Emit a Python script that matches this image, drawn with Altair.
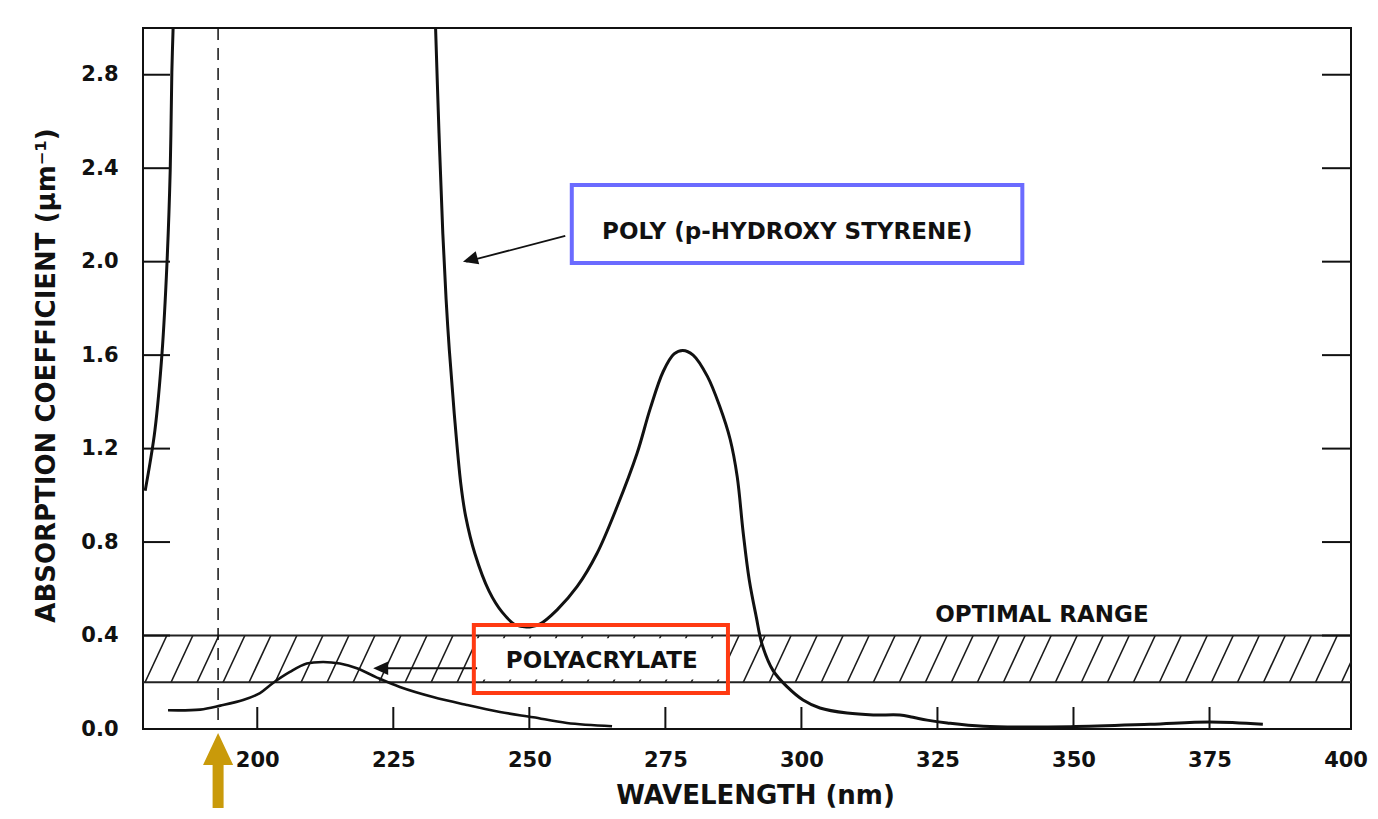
import altair as alt
import numpy as np
import pandas as pd

# ---------------- data ----------------
# Poly(p-hydroxy styrene): short-wavelength branch (leaves the top of the chart)
phs_left_nm = [179.4, 180.3, 181.2, 182.5, 183.4, 184.0, 184.3, 184.6]
phs_left_abs = [1.02, 1.14, 1.28, 1.61, 1.99, 2.39, 2.81, 3.05]

# Poly(p-hydroxy styrene): main branch
phs_main_nm = [232.7, 233.4, 234.1, 234.7, 235.3, 236.2, 237.4, 238.3, 240.0, 242.6,
               245.0, 247.5, 250.1, 252.0, 255.1, 258.8, 262.4, 266.1, 269.8, 272.2,
               274.6, 276.6, 278.2, 280.1, 282.7, 285.0, 286.9, 288.2, 289.3, 290.4,
               291.7, 292.8, 294.8, 297.4, 300.3, 303.4, 308.4, 313.2, 318.1,
               320.5, 323.1, 326.8, 333.4, 349.4, 364.1, 375.1, 384.8]
phs_main_abs = [3.05, 2.55, 2.12, 1.84, 1.62, 1.35, 1.05, 0.91, 0.75, 0.59,
                0.50, 0.445, 0.437, 0.45, 0.51, 0.61, 0.75, 0.95, 1.18, 1.37,
                1.53, 1.605, 1.62, 1.60, 1.51, 1.38, 1.24, 1.08, 0.84, 0.64,
                0.48, 0.36, 0.25, 0.18, 0.124, 0.09, 0.068, 0.06, 0.06,
                0.05, 0.038, 0.026, 0.012, 0.01, 0.02, 0.03, 0.02]

# Polyacrylate
pa_nm = [183.6, 189.5, 193.2, 197.4, 200.5, 202.9, 206.0, 209.1, 212.1, 215.2,
         218.3, 222.0, 226.2, 232.3, 238.5, 244.6, 250.7, 256.9, 265.2]
pa_abs = [0.08, 0.083, 0.10, 0.124, 0.154, 0.197, 0.244, 0.28, 0.287, 0.28,
          0.26, 0.22, 0.18, 0.137, 0.103, 0.073, 0.05, 0.026, 0.012]

band_low, band_high = 0.2, 0.4          # optimal range
laser_nm = 192.8                         # dashed line / gold arrow

xlabel_values = [200, 225, 250, 275, 300, 325, 350, 375, 400]
xtick_values = [200, 225, 250, 275, 300, 325, 350, 375]
ylabel_values = [0.0, 0.4, 0.8, 1.2, 1.6, 2.0, 2.4, 2.8]
ytick_values = [0.4, 0.8, 1.2, 1.6, 2.0, 2.4, 2.8]

# annotation positions (data units)
label_text = ["POLY (p-HYDROXY STYRENE)", "POLYACRYLATE", "OPTIMAL RANGE"]
label_nm = [297.4, 263.3, 344.2]
label_abs = [2.127, 0.289, 0.488]

blue_box = dict(x=257.8, x2=340.6, y=1.994, y2=2.328)
red_box = dict(x=239.8, x2=286.5, y=0.154, y2=0.445)

arrow_from_nm = [256.6, 240.4]
arrow_from_abs = [2.11, 0.26]
arrow_to_nm = [238.4, 222.0]
arrow_to_abs = [2.0, 0.26]
arrow_tip_nm = [237.8, 221.3]
arrow_tip_abs = [2.0, 0.26]
arrow_tip_angle = [345, 0]

# ---------------- chart ----------------
W, H = 1208, 701
xs = alt.Scale(domain=[179, 401], nice=False, zero=False)
ys = alt.Scale(domain=[0, 3.0], nice=False, zero=False)

xaxis = alt.Axis(values=xlabel_values, format='d', ticks=False, tickSize=0, domain=False,
                 grid=False, labelPadding=20, labelFlush=False,
                 title='WAVELENGTH (nm)', titleX=612, titleY=66,
                 titleBaseline='middle', titleAlign='center')
yaxis = alt.Axis(values=ylabel_values, format='.1f', ticks=False, tickSize=0, domain=False,
                 grid=False, labelPadding=25,
                 title='ABSORPTION COEFFICIENT (μm⁻¹)', titleX=-97, titleY=347,
                 titleAngle=270, titleBaseline='middle', titleAlign='center')


def X(f):
    return alt.X(f, type='quantitative', scale=xs, axis=xaxis)


def Y(f):
    return alt.Y(f, type='quantitative', scale=ys, axis=yaxis)


curves = pd.concat([
    pd.DataFrame({'nm': phs_left_nm, 'abs': phs_left_abs, 'series': 'phs_left'}),
    pd.DataFrame({'nm': phs_main_nm, 'abs': phs_main_abs, 'series': 'phs_main'}),
])
pa_df = pd.DataFrame({'nm': pa_nm, 'abs': pa_abs})

hx = np.arange(174.6, 401, 4.78)
hatch_df = pd.DataFrame({'x': hx, 'x2': hx + 4.0, 'y': band_low, 'y2': band_high})

hatch = alt.Chart(hatch_df).mark_rule(color='#1a1a1a', strokeWidth=1.6, clip=True).encode(
    x=X('x'), x2='x2', y=Y('y'), y2='y2')

red_fill = alt.Chart(pd.DataFrame([dict(x=red_box['x'], x2=red_box['x2'], y=0.212, y2=0.388)])
                     ).mark_rect(fill='white').encode(x=X('x'), x2='x2', y=Y('y'), y2='y2')

band_lines = alt.Chart(pd.DataFrame({'v': [band_low, band_high]})).mark_rule(
    color='#222', strokeWidth=2).encode(y=Y('v'))

dashed = alt.Chart(pd.DataFrame({'nm': [laser_nm]})).mark_rule(
    color='#111', strokeWidth=1.5, strokeDash=[12, 8]).encode(x=X('nm'))

phs_line = alt.Chart(curves).mark_line(color='#111', strokeWidth=3, interpolate='catmull-rom',
                                       clip=True).encode(x=X('nm'), y=Y('abs'), detail='series:N')
pa_line = alt.Chart(pa_df).mark_line(color='#111', strokeWidth=2.6, interpolate='catmull-rom',
                                     clip=True).encode(x=X('nm'), y=Y('abs'))

ytk = pd.DataFrame({'v': ytick_values})
left_ticks = alt.Chart(ytk).mark_rule(color='#111', strokeWidth=2).encode(
    x=alt.value(0), x2=alt.value(27), y=Y('v'))
right_ticks = alt.Chart(ytk).mark_rule(color='#111', strokeWidth=2).encode(
    x=alt.value(W - 29), x2=alt.value(W), y=Y('v'))
bottom_ticks = alt.Chart(pd.DataFrame({'nm': xtick_values})).mark_rule(
    color='#111', strokeWidth=2).encode(x=X('nm'), y=alt.value(H), y2=alt.value(H - 22))

arrows_df = pd.DataFrame({'x': arrow_from_nm, 'y': arrow_from_abs,
                          'x2': arrow_to_nm, 'y2': arrow_to_abs})
arrow_lines = alt.Chart(arrows_df).mark_rule(color='#111', strokeWidth=1.8).encode(
    x=X('x'), x2='x2', y=Y('y'), y2='y2')
heads_df = pd.DataFrame({'x': arrow_tip_nm, 'y': arrow_tip_abs, 'a': arrow_tip_angle})
arrow_heads = alt.Chart(heads_df).mark_point(
    shape='M 0 0 L 2 -0.9 L 2 0.9 Z', filled=True, color='#111', size=225, opacity=1
).encode(x=X('x'), y=Y('y'), angle=alt.Angle('a:Q', scale=None))

blue = alt.Chart(pd.DataFrame([blue_box])).mark_rect(
    fill='white', stroke='#6B6BFF', strokeWidth=4).encode(x=X('x'), x2='x2', y=Y('y'), y2='y2')
red = alt.Chart(pd.DataFrame([red_box])).mark_rect(
    fill='white', fillOpacity=0, stroke='#FF3A12', strokeWidth=4).encode(
    x=X('x'), x2='x2', y=Y('y'), y2='y2')

labels = alt.Chart(pd.DataFrame({'t': label_text, 'x': label_nm, 'y': label_abs})).mark_text(
    font='DejaVu Sans', fontWeight='bold', fontSize=23, color='#111', baseline='middle',
    align='center').encode(x=X('x'), y=Y('y'), text='t:N')

gold = '#C99A0A'
gold_shaft = alt.Chart(pd.DataFrame({'x': [laser_nm], 'y': [-0.14], 'y2': [-0.338]})).mark_rule(
    color=gold, strokeWidth=11).encode(x=X('x'), y=Y('y'), y2='y2')
gold_head = alt.Chart(pd.DataFrame({'x': [laser_nm], 'y': [-0.017]})).mark_point(
    shape='M 0 0 L 0.94 2 L -0.94 2 Z', filled=True, color=gold, size=1024, opacity=1
).encode(x=X('x'), y=Y('y'))

chart = alt.layer(
    hatch, red_fill, band_lines, dashed, pa_line, phs_line,
    left_ticks, right_ticks, bottom_ticks, arrow_lines, arrow_heads,
    blue, red, labels, gold_shaft, gold_head
).properties(
    width=W, height=H,
    padding={'left': 135, 'top': 20, 'right': 19, 'bottom': 81},
    autosize=alt.AutoSizeParams(type='none'),
    background='white'
).configure_view(
    stroke='#111', strokeWidth=2
).configure_axis(
    labelFont='DejaVu Sans', labelFontSize=21, labelFontWeight='bold', labelColor='#111',
    titleFont='DejaVu Sans', titleFontSize=26, titleFontWeight='bold', titleColor='#111'
)

chart.save("out.html", embed_options={"renderer": "svg", "actions": False})
